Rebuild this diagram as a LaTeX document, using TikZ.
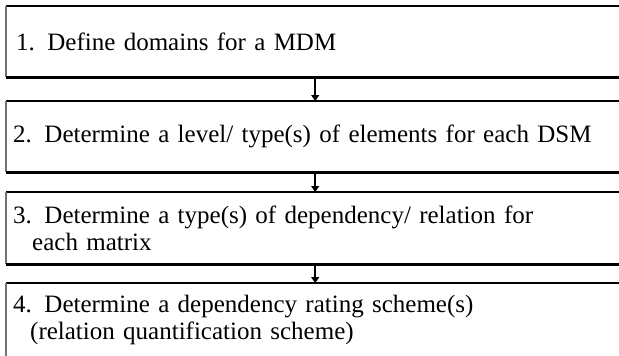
\documentclass[tikz,border=0pt]{standalone}
\usepackage{fontspec}
\setmainfont{Liberation Serif}
\usetikzlibrary{arrows.meta}
\begin{document}
\begin{tikzpicture}[x=1pt,y=1pt,
  stepbox/.style={draw=none, rectangle, minimum width=618pt,
    anchor=north west, inner xsep=7pt, inner ysep=0pt, text width=604pt, align=left,
    font=\fontsize{25}{27}\selectfont},
  topedge/.style={line width=1.2pt, black},
  leftedge/.style={line width=1.5pt, black!55},
  thickedge/.style={line width=2.6pt, black},
  flow/.style={line width=2pt, -{Triangle[width=8pt,length=6pt]}}]
\useasboundingbox (0,0) rectangle (619,-356);
\clip (0,0) rectangle (619,-356);
\node[stepbox, minimum height=71pt] (b1) at (6,-6) {\hspace*{3pt}1. Define domains for a MDM};
\node[stepbox, minimum height=71pt] (b2) at (6,-101) {2. Determine a level/ type(s) of elements for each DSM};
\node[stepbox, minimum height=72pt] (b3) at (6,-192) {3. Determine a type(s) of dependency/ relation for\\\hspace*{19pt}each matrix};
\node[stepbox, minimum height=74pt] (b4) at (6,-283) {4. Determine a dependency rating scheme(s)\\\hspace*{17pt}(relation quantification scheme)};
\foreach \b in {b1,b2,b3,b4}{
  \draw[topedge] (\b.north west) -- (\b.north east);
  \draw[leftedge] (\b.north west) -- (\b.south west);
  \draw[thickedge] (\b.south west) -- (\b.south east);}
\draw[flow] (b1.south) -- (b2.north);
\draw[flow] (b2.south) -- (b3.north);
\draw[flow] (b3.south) -- (b4.north);
\end{tikzpicture}
\end{document}
